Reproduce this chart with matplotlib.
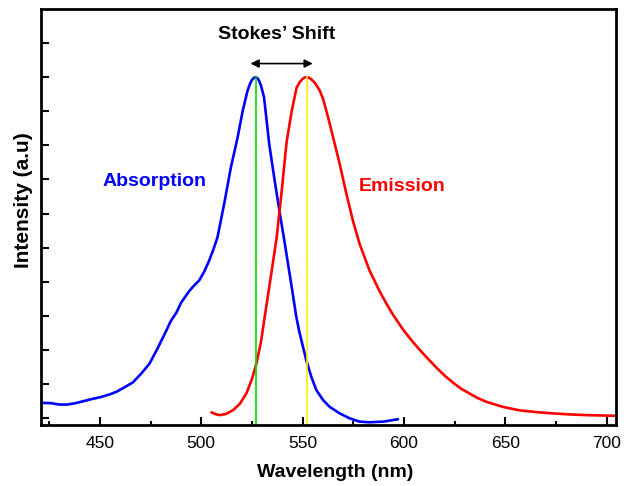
import matplotlib
matplotlib.use("Agg")
import matplotlib.pyplot as plt
from matplotlib.ticker import MultipleLocator, NullFormatter

plt.rcParams['font.family'] = ['Liberation Sans', 'DejaVu Sans']

# Absorption spectrum (blue)
abs_wl = [421.5, 426, 430, 434, 438, 442, 446, 450.5, 455, 458.4, 462, 466.3, 470,
          474.5, 478.5, 482.8, 485, 487.8, 490, 492.8, 494, 496, 499, 501.5, 503.9,
          506, 508, 511.3, 514.6, 517.9, 520.4, 522.8, 524, 525, 526, 526.8, 527.6,
          528.5, 529.5, 531, 533.5, 536, 538.5, 541, 543, 545, 546.8, 548.2, 549.4,
          551.8, 554.3, 556.8, 560.1, 563.4, 568.3, 573, 578, 583, 590, 597]
abs_int = [0.45, 0.44, 0.40, 0.40, 0.44, 0.50, 0.56, 0.62, 0.70, 0.78, 0.90, 1.05, 1.28,
           1.60, 2.05, 2.57, 2.85, 3.10, 3.38, 3.62, 3.72, 3.86, 4.04, 4.30, 4.62,
           4.95, 5.30, 6.28, 7.35, 8.22, 9.00, 9.60, 9.80, 9.92, 9.98, 10.0, 9.98,
           9.90, 9.75, 9.40, 8.05, 7.05, 6.10, 5.20, 4.45, 3.70, 3.00, 2.58, 2.28,
           1.70, 1.21, 0.82, 0.53, 0.33, 0.14, 0.0, -0.10, -0.12, -0.10, -0.03]

# Emission spectrum (red)
em_wl = [505, 507, 509, 512, 515.6, 519, 522.3, 525, 527.2, 529.5, 531.5, 534.7,
         537.2, 539.6, 542.1, 544.6, 547, 548.5, 550, 551, 552, 553, 554, 555.5,
         556.8, 558.5, 560.1, 562.6, 565.1, 568.3, 571.6, 574.8, 578.1, 583, 588,
         591.3, 594.5, 599.5, 604, 607.8, 612, 616, 620, 624.2, 628, 632.4, 636,
         640.6, 645, 648.8, 657, 665, 673.4, 682, 690, 697, 704.4]
em_int = [0.17, 0.12, 0.09, 0.12, 0.23, 0.42, 0.73, 1.15, 1.60, 2.25, 3.05, 4.30,
          5.30, 6.62, 8.10, 9.00, 9.69, 9.85, 9.95, 9.99, 10.0, 9.99, 9.95, 9.87,
          9.77, 9.60, 9.36, 8.81, 8.22, 7.45, 6.57, 5.79, 5.11, 4.33, 3.72,
          3.36, 3.04, 2.60, 2.26, 2.00, 1.73, 1.48, 1.25, 1.04, 0.87, 0.72, 0.60,
          0.48, 0.40, 0.33, 0.23, 0.18, 0.14, 0.11, 0.09, 0.08, 0.07]

abs_peak = 526.8
em_peak = 552.0
peak_value = 10.0
arrow_y = 10.4

x_ticks = [450, 500, 550, 600, 650, 700]

fig = plt.figure(figsize=(6.35, 4.86), dpi=100)
ax = fig.add_axes([0.0646, 0.1255, 0.9054, 0.856])

ax.plot(abs_wl, abs_int, color='#0000FF', lw=1.9, solid_capstyle='round',
        solid_joinstyle='round')
ax.plot(em_wl, em_int, color='#FF0000', lw=1.9, solid_capstyle='round',
        solid_joinstyle='round')
ax.plot([abs_peak, abs_peak], [-0.2, peak_value], color='#00E000', lw=1.2)
ax.plot([em_peak, em_peak], [-0.2, peak_value], color='#FFEE00', lw=1.2)

ax.annotate('', xy=(abs_peak - 2.5, arrow_y), xytext=(em_peak + 3, arrow_y),
            arrowprops=dict(arrowstyle='<|-|>', color='black', lw=1.2,
                            mutation_scale=12, shrinkA=0, shrinkB=0))
ax.text(537.4, 11.26, "Stokes\u2019 Shift", ha='center', va='center',
        fontsize=14, fontweight='bold', color='black')
ax.text(477, 6.95, 'Absorption', ha='center', va='center',
        fontsize=14, fontweight='bold', color='#0000FF')
ax.text(599, 6.8, 'Emission', ha='center', va='center',
        fontsize=14, fontweight='bold', color='#FF0000')

ax.set_xlim(421, 704.5)
ax.set_ylim(-0.2, 12)
ax.set_xticks(x_ticks)
ax.set_xticklabels([str(t) for t in x_ticks])
ax.xaxis.set_minor_locator(MultipleLocator(25))
ax.set_yticks(range(0, 12))
ax.yaxis.set_major_formatter(NullFormatter())
ax.tick_params(axis='x', which='major', direction='in', length=6, width=1.5,
               labelsize=12.5, pad=8)
ax.tick_params(axis='x', which='minor', direction='in', length=3, width=1.5)
ax.tick_params(axis='y', which='major', direction='in', length=6, width=1.5)
for s in ax.spines.values():
    s.set_linewidth(2)

ax.set_xlabel('Wavelength (nm)', fontsize=14, fontweight='bold')
ax.xaxis.set_label_coords(0.512, -0.113)
ax.xaxis.label.set_verticalalignment('center')
ax.set_ylabel('Intensity (a.u)', fontsize=15, fontweight='bold')
ax.yaxis.set_label_coords(-0.031, 0.54)
ax.yaxis.label.set_verticalalignment('center')

fig.savefig('out.png', dpi=100)
